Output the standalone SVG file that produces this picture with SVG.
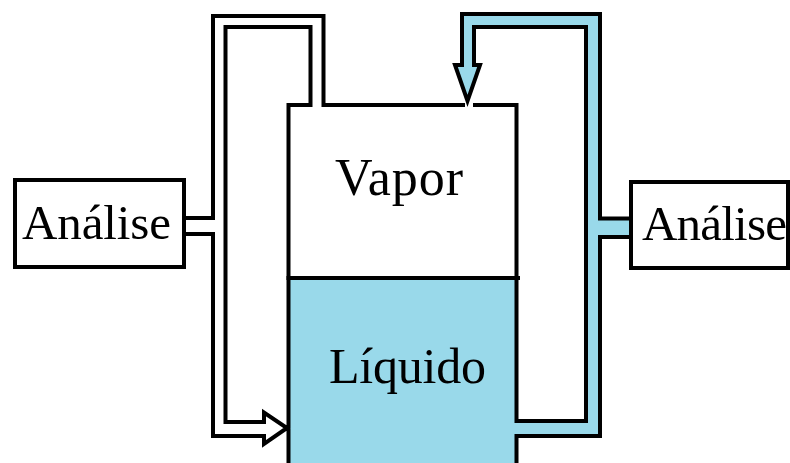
<svg xmlns="http://www.w3.org/2000/svg" width="790" height="463" viewBox="0 0 790 463">
<style>
.ln{fill:none;stroke:#000;stroke-width:4;stroke-linejoin:miter;stroke-linecap:square}
.box{fill:#fff;stroke:#000;stroke-width:4}
.blue{fill:#99D9EA;stroke:none}
.t{font-family:"Liberation Serif","Times New Roman",serif;font-size:49px;fill:#000}
</style>
<rect width="790" height="463" fill="#fff"/>
<g id="tank">
<rect class="blue" x="288.5" y="278" width="228" height="190"/>
<path class="ln" d="M288.5,278 H518"/>
<text class="t" x="335" y="195" style="font-size:52px" textLength="128">Vapor</text>
<text class="t" x="329" y="383" style="font-size:50px" textLength="157">Líquido</text>
</g>
<g id="connectors">
<path class="blue" d="M467.5,101 L455,65 H462 V14 H600 V218.5 H631 V237 H600 V436 H514 V421 H586 V27 H474 V65 H480 Z"/>
<path class="ln" d="M186,218 H213 V16 H323.5 V105 H463"/>
<path class="ln" d="M186,234 H213 V436 H264 V444 L287,428 L264,412.5 V422 H225.5 V27 H310.5 V105 H288.5 V466"/>
<path class="ln" d="M516.5,466 V436 H600 V237 H629"/>
<path class="ln" d="M629,218.5 H600 V14 H462 V65 H455 L467.5,101 L480,65 H474 V27 H586 V421 H516.5 V105 H475"/>
</g>
<g id="analise-left">
<rect class="box" x="15" y="180" width="169" height="87"/>
<text class="t" x="22" y="239" textLength="149">Análise</text>
</g>
<g id="analise-right">
<rect class="box" x="631" y="182" width="157" height="86"/>
<text class="t" x="642" y="240" textLength="145">Análise</text>
</g>
</svg>
